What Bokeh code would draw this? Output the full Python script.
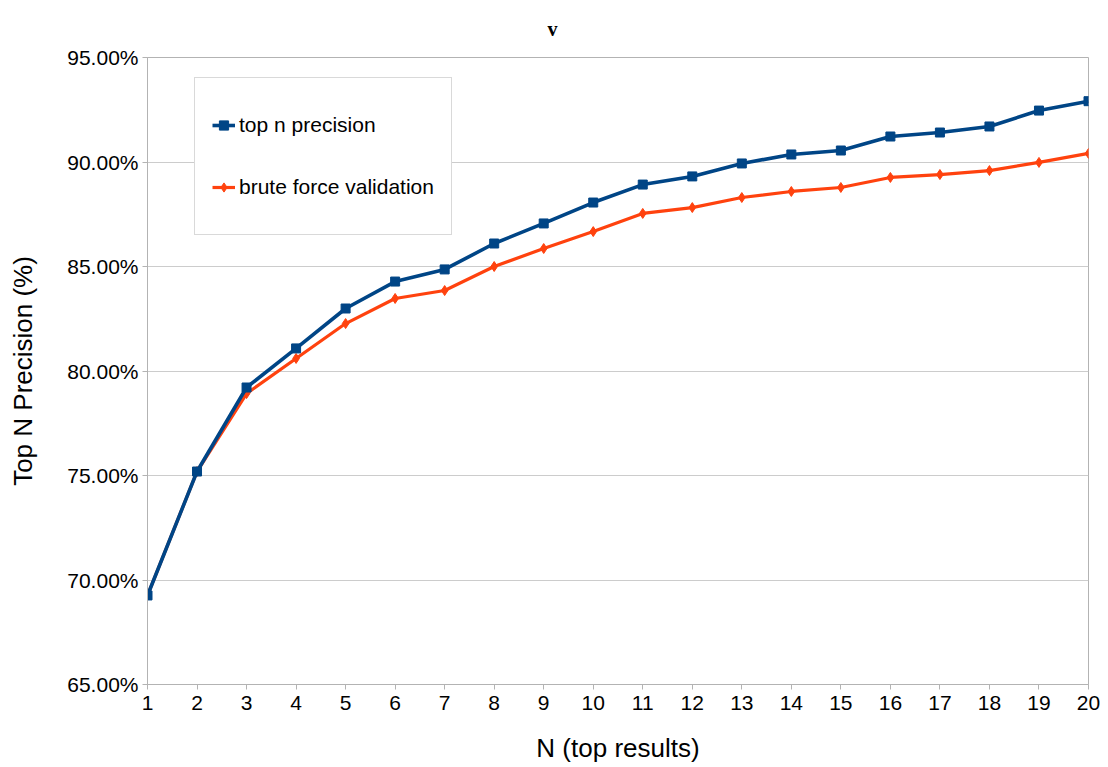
from bokeh.plotting import figure
from bokeh.models import Range1d, FixedTicker, PrintfTickFormatter, Legend, LegendItem, Title
from bokeh.embed import file_html
from bokeh.resources import INLINE

# Data
n_values = list(range(1, 21))
top_n_precision = [69.26, 75.19, 79.21, 81.08, 82.99, 84.28, 84.86, 86.10, 87.06, 88.06,
                   88.92, 89.31, 89.93, 90.36, 90.55, 91.22, 91.41, 91.70, 92.46, 92.91]
brute_force_validation = [69.26, 75.19, 78.92, 80.60, 82.27, 83.47, 83.85, 85.00, 85.86, 86.67,
                          87.54, 87.82, 88.30, 88.59, 88.78, 89.26, 89.40, 89.59, 89.98, 90.41]
y_ticks = [65, 70, 75, 80, 85, 90, 95]
title_text = "v"

BLUE = "#004586"
ORANGE = "#ff420e"
GREY = "#b3b3b3"
FONT = "Liberation Sans"

p = figure(width=1108, height=767, output_backend="svg", toolbar_location=None,
           x_range=Range1d(1, 20), y_range=Range1d(65, 95),
           min_border_left=147, min_border_right=20, min_border_top=57, min_border_bottom=83)
p.background_fill_color = "white"
p.border_fill_color = "white"
p.outline_line_color = GREY
p.outline_line_width = 1

title = Title(text=title_text, align="left", offset=400, standoff=32, vertical_align="top",
              text_font="Liberation Serif", text_font_size="20px", text_font_style="bold",
              text_color="#000000")
p.add_layout(title, "above")

# Axes
p.xaxis.ticker = FixedTicker(ticks=n_values)
p.yaxis.ticker = FixedTicker(ticks=y_ticks)
p.yaxis.formatter = PrintfTickFormatter(format="%.2f%%")
for ax in (p.xaxis[0], p.yaxis[0]):
    ax.axis_line_color = GREY
    ax.major_tick_line_color = GREY
    ax.minor_tick_line_color = None
    ax.major_tick_in = 0
    ax.major_tick_out = 5
    ax.major_label_text_font = FONT
    ax.major_label_text_font_size = "21px"
    ax.major_label_text_color = "#000000"
    ax.axis_label_text_font = FONT
    ax.axis_label_text_font_size = "26px"
    ax.axis_label_text_font_style = "normal"
    ax.axis_label_text_color = "#000000"
p.xaxis.axis_label = "N (top results)"
p.yaxis.axis_label = "Top N Precision (%)"
p.xaxis.major_label_standoff = 6
p.yaxis.major_label_standoff = 4
p.xaxis.axis_label_standoff = 20
p.yaxis.axis_label_standoff = 26

p.xgrid.grid_line_color = None
p.ygrid.grid_line_color = "#cccccc"
p.ygrid.grid_line_width = 1

# Series (orange drawn first so blue sits on top)
l2 = p.line(n_values, brute_force_validation, line_color=ORANGE, line_width=3.2)
m2 = p.scatter(n_values, brute_force_validation, marker="diamond", size=10,
               fill_color=ORANGE, line_color=ORANGE)
l1 = p.line(n_values, top_n_precision, line_color=BLUE, line_width=3.6)
m1 = p.scatter(n_values, top_n_precision, marker="square", size=9,
               fill_color=BLUE, line_color=BLUE)

legend = Legend(items=[LegendItem(label="top n precision", renderers=[l1, m1]),
                       LegendItem(label="brute force validation", renderers=[l2, m2])],
                location=(47, 449))
legend.label_text_font = FONT
legend.label_text_font_size = "21px"
legend.label_text_color = "#000000"
legend.glyph_width = 23
legend.glyph_height = 60
legend.label_height = 60
legend.spacing = 2
legend.padding = 17
legend.margin = 0
legend.label_standoff = 4
legend.border_line_color = GREY
legend.border_line_width = 1
legend.background_fill_color = "white"
legend.background_fill_alpha = 1
p.add_layout(legend)

open("out.html", "w").write(file_html(p, INLINE))
